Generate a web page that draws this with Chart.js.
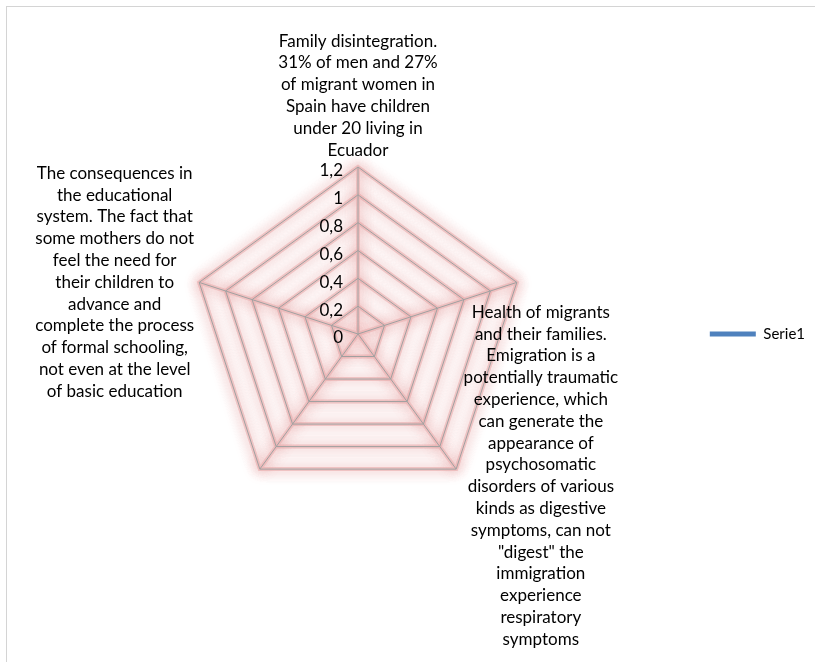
<!DOCTYPE html>
<html>
<head>
<meta charset="utf-8">
<script src="https://cdn.jsdelivr.net/npm/chart.js@4"></script>
<style>
  html, body { margin: 0; padding: 0; background: #fff; }
  #frame { position: absolute; left: 6px; top: 6px; width: 830px; height: 680px;
           border-left: 1px solid #d4d4d4; border-top: 1px solid #d4d4d4; }
  #wrap { position: absolute; left: 0; top: 0; width: 815px; height: 662px; }
</style>
</head>
<body>
<div id="frame"></div>
<div id="wrap"><canvas id="radar"></canvas></div>
<script>
// categories (axis labels, multi-line)
const categories = [
    ["Family disintegration.", "31% of men and 27%", "of migrant women in",
     "Spain have children", "under 20 living in", "Ecuador"],
    ["Health of migrants", "and their families.", "Emigration is a",
     "potentially traumatic", "experience, which", "can generate the",
     "appearance of", "psychosomatic", "disorders of various",
     "kinds as digestive", "symptoms, can not", "\"digest\" the",
     "immigration", "experience", "respiratory", "symptoms"],
    [""],
    [""],
    ["The consequences in", "the educational", "system. The fact that",
     "some mothers do not", "feel the need for", "their children to",
     "advance and", "complete the process", "of formal schooling,",
     "not even at the level", "of basic education"]
];
const serie1 = [0, 0, 0, 0, 0];
const tickLabels = ["0", "0,2", "0,4", "0,6", "0,8", "1", "1,2"];

const FONT = '17px Lato';
const LH = 21.8;

// where each axis label block sits relative to its vertex
const placement = [
    {ax: 'center', ay: 'bottom', dx: 0, dy: -6},
    {ax: 'center', ay: 'top', dx: 24, dy: 19},
    null,
    null,
    {ax: 'right', ay: 'middle', dx: -5, dy: 0}
];

// pink glow under the web lines
const glow = {
    id: 'glow',
    beforeDraw(chart) {
        const s = chart.scales.r;
        const ctx = chart.ctx;
        const n = categories.length;
        ctx.save();
        ctx.strokeStyle = 'rgba(238,188,188,0.5)';
        ctx.lineWidth = 4;
        ctx.shadowColor = 'rgba(218,115,115,0.8)';
        ctx.shadowBlur = 13;
        for (let pass = 0; pass < 2; pass++) {
            s.ticks.forEach(t => {
                if (t.value <= s.min) return;
                ctx.beginPath();
                for (let i = 0; i < n; i++) {
                    const p = s.getPointPositionForValue(i, t.value);
                    if (i) ctx.lineTo(p.x, p.y); else ctx.moveTo(p.x, p.y);
                }
                ctx.closePath();
                ctx.stroke();
            });
            for (let i = 0; i < n; i++) {
                const p = s.getPointPositionForValue(i, s.max);
                ctx.beginPath();
                ctx.moveTo(s.xCenter, s.yCenter);
                ctx.lineTo(p.x, p.y);
                ctx.stroke();
            }
        }
        ctx.restore();
    }
};

// tick labels (incl. "0") and the axis labels, Excel style
const texts = {
    id: 'texts',
    afterDraw(chart) {
        const s = chart.scales.r;
        const ctx = chart.ctx;
        ctx.save();
        ctx.font = FONT;
        ctx.fillStyle = '#000';
        ctx.textBaseline = 'middle';

        ctx.textAlign = 'right';
        s.ticks.forEach((t, i) => {
            const d = s.getDistanceFromCenterForValue(t.value);
            ctx.fillText(tickLabels[i], s.xCenter - 15, s.yCenter - d + 4);
        });

        ctx.textAlign = 'center';
        chart.data.labels.forEach((lines, i) => {
            const pl = placement[i];
            if (!pl) return;
            const p = s.getPointPositionForValue(i, s.max);
            const w = Math.max(...lines.map(l => ctx.measureText(l).width));
            const h = lines.length * LH;
            let cx = p.x + pl.dx;
            if (pl.ax === 'right') cx = p.x + pl.dx - w / 2;
            let top = p.y + pl.dy;
            if (pl.ay === 'bottom') top = p.y + pl.dy - h;
            if (pl.ay === 'middle') top = p.y + pl.dy - h / 2;
            lines.forEach((l, k) => ctx.fillText(l, cx, top + LH * (k + 0.5)));
        });
        ctx.restore();
    }
};

new Chart(
    document.getElementById('radar'),
    {
        type: 'radar',
        data: {
            labels: categories,
            datasets: [
                {
                    label: 'Serie1',
                    data: serie1,
                    borderColor: '#4f81bd',
                    backgroundColor: '#4f81bd',
                    borderWidth: 5,
                    borderCapStyle: 'round',
                    showLine: false,
                    pointRadius: 0,
                    fill: false
                }
            ]
        },
        options: {
            responsive: true,
            maintainAspectRatio: false,
            animation: false,
            layout: {
                padding: {left: 18, right: 0, top: 167, bottom: 161}
            },
            scales: {
                r: {
                    min: 0,
                    max: 1.2,
                    ticks: {stepSize: 0.2, display: false},
                    pointLabels: {display: false},
                    grid: {color: '#a0a0a0', lineWidth: 1},
                    angleLines: {color: '#a0a0a0', lineWidth: 1}
                }
            },
            plugins: {
                tooltip: {enabled: false},
                legend: {
                    position: 'right',
                    labels: {
                        usePointStyle: true,
                        pointStyle: 'line',
                        pointStyleWidth: 46,
                        color: '#000',
                        font: {family: 'Lato', size: 15}
                    }
                }
            }
        },
        plugins: [glow, texts]
    }
);
</script>
</body>
</html>
